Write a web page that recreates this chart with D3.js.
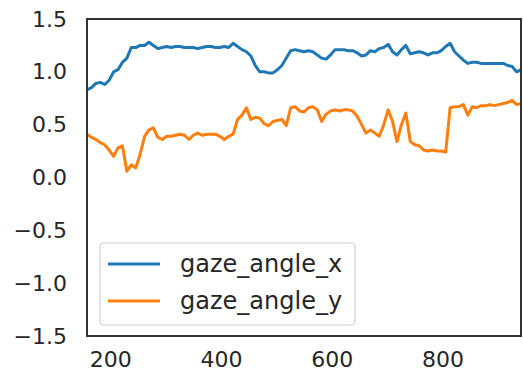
<!DOCTYPE html>
<html>
<head>
<meta charset="utf-8">
<script src="https://cdn.jsdelivr.net/npm/d3@7"></script>
<style>
  html, body { margin: 0; padding: 0; background: #fff; }
  svg { display: block; }
  text { font-family: "DejaVu Sans", sans-serif; fill: #262626; }
</style>
</head>
<body>
<svg id="chart" width="523" height="377"></svg>
<script>
// Frame index (every 8th frame) and gaze angles in radians
const frames = d3.range(158, 943, 8);
const gazeAngleX = [
  0.83, 0.85, 0.89, 0.90, 0.88, 0.92, 1.00, 1.02, 1.09, 1.13,
  1.23, 1.23, 1.25, 1.25, 1.28, 1.25, 1.22, 1.23, 1.24, 1.23,
  1.24, 1.24, 1.23, 1.23, 1.23, 1.22, 1.23, 1.24, 1.24, 1.23,
  1.23, 1.24, 1.23, 1.27, 1.24, 1.21, 1.19, 1.15, 1.06, 1.00,
  1.00, 0.99, 0.99, 1.02, 1.06, 1.13, 1.20, 1.21, 1.20, 1.19,
  1.20, 1.19, 1.16, 1.13, 1.12, 1.16, 1.21, 1.21, 1.21, 1.20,
  1.20, 1.18, 1.15, 1.16, 1.20, 1.19, 1.22, 1.23, 1.26, 1.19,
  1.16, 1.21, 1.25, 1.17, 1.18, 1.19, 1.18, 1.16, 1.18, 1.18,
  1.20, 1.24, 1.27, 1.19, 1.15, 1.11, 1.08, 1.09, 1.09, 1.08,
  1.08, 1.08, 1.08, 1.08, 1.08, 1.06, 1.05, 1.00, 1.02
];
const gazeAngleY = [
  0.41, 0.38, 0.36, 0.33, 0.31, 0.26, 0.20, 0.28, 0.30, 0.06,
  0.12, 0.09, 0.22, 0.39, 0.45, 0.47, 0.38, 0.36, 0.39, 0.39,
  0.40, 0.41, 0.40, 0.36, 0.40, 0.42, 0.40, 0.41, 0.41, 0.41,
  0.39, 0.36, 0.39, 0.41, 0.55, 0.59, 0.66, 0.55, 0.57, 0.56,
  0.51, 0.49, 0.53, 0.54, 0.55, 0.49, 0.66, 0.67, 0.63, 0.62,
  0.66, 0.67, 0.64, 0.53, 0.60, 0.63, 0.64, 0.63, 0.64, 0.64,
  0.63, 0.58, 0.50, 0.42, 0.45, 0.42, 0.39, 0.50, 0.64, 0.53,
  0.34, 0.50, 0.61, 0.34, 0.31, 0.30, 0.26, 0.25, 0.26, 0.25,
  0.25, 0.24, 0.66, 0.67, 0.67, 0.69, 0.59, 0.67, 0.66, 0.68,
  0.68, 0.69, 0.68, 0.69, 0.70, 0.71, 0.73, 0.69, 0.70
];
const seriesNames = ["gaze_angle_x", "gaze_angle_y"];
const seriesColors = ["#1f77b4", "#ff7f0e"];
const xTicks = [200, 400, 600, 800];
const yTicks = [-1.5, -1.0, -0.5, 0.0, 0.5, 1.0, 1.5];

const svg = d3.select("#chart");
const plot = { left: 87, top: 19, right: 521, bottom: 336 };

const x = d3.scaleLinear()
  .domain([frames[0], frames[frames.length - 1]])
  .range([plot.left, plot.right]);
const y = d3.scaleLinear()
  .domain([-1.5, 1.5])
  .range([plot.bottom, plot.top]);

// Axes: labels only, no tick marks
const fmtY = v => (v < 0 ? "\u2212" : "") + Math.abs(v).toFixed(1);
const yAxis = svg.append("g")
  .attr("transform", `translate(${plot.left},0)`)
  .call(d3.axisLeft(y).tickValues(yTicks).tickSize(0).tickPadding(20).tickFormat(fmtY));
yAxis.select(".domain").remove();
yAxis.selectAll("text").style("font-size", "22px").attr("fill", "#262626");

const xAxis = svg.append("g")
  .attr("transform", `translate(0,${plot.bottom})`)
  .call(d3.axisBottom(x).tickValues(xTicks).tickSize(0).tickPadding(15).tickFormat(d3.format("d")));
xAxis.select(".domain").remove();
xAxis.selectAll("text").style("font-size", "22px").attr("fill", "#262626");

// Data lines
const series = [gazeAngleX, gazeAngleY];
const line = d3.line()
  .x((d, i) => x(frames[i]))
  .y(d => y(d));

svg.append("clipPath").attr("id", "plot-clip")
  .append("rect")
  .attr("x", plot.left).attr("y", plot.top)
  .attr("width", plot.right - plot.left).attr("height", plot.bottom - plot.top);

series.forEach((vals, k) => {
  svg.append("path")
    .datum(vals)
    .attr("clip-path", "url(#plot-clip)")
    .attr("fill", "none")
    .attr("stroke", seriesColors[k])
    .attr("stroke-width", 3)
    .attr("stroke-linejoin", "round")
    .attr("stroke-linecap", "square")
    .attr("d", line);
});

// Frame around the plot area
svg.append("rect")
  .attr("x", plot.left).attr("y", plot.top)
  .attr("width", plot.right - plot.left).attr("height", plot.bottom - plot.top)
  .attr("fill", "none")
  .attr("stroke", "#333")
  .attr("stroke-width", 2);

// Legend
const legend = svg.append("g").attr("transform", "translate(100,243)");
legend.append("rect")
  .attr("width", 255).attr("height", 82)
  .attr("rx", 4).attr("ry", 4)
  .attr("fill", "rgba(255,255,255,0.8)")
  .attr("stroke", "#d0d0d0")
  .attr("stroke-width", 1.2);
seriesNames.forEach((name, k) => {
  const cy = 21 + k * 37;
  legend.append("line")
    .attr("x1", 8).attr("x2", 60)
    .attr("y1", cy).attr("y2", cy)
    .attr("stroke", seriesColors[k])
    .attr("stroke-width", 3);
  legend.append("text")
    .attr("x", 80).attr("y", cy)
    .attr("dy", "0.35em")
    .style("font-size", "24px")
    .text(name);
});
</script>
</body>
</html>
